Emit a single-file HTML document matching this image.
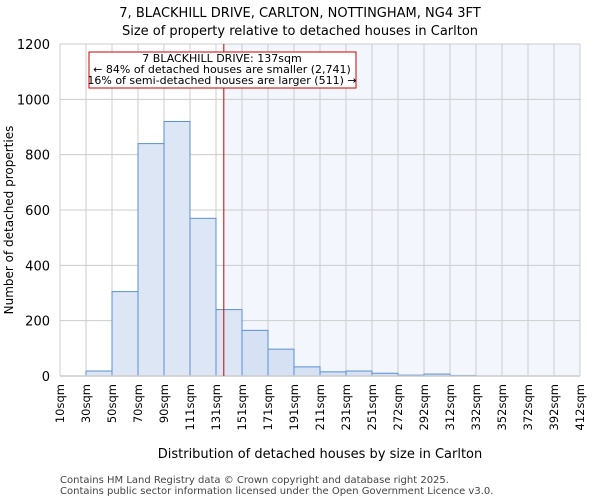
<!DOCTYPE html>
<html><head><meta charset="utf-8"><style>
body{margin:0;background:#fff;font-family:"DejaVu Sans","Liberation Sans",sans-serif}
</style></head><body>
<svg id="chart" width="600" height="500" xmlns="http://www.w3.org/2000/svg" font-family="DejaVu Sans, Liberation Sans, sans-serif">
<text x="300" y="17" text-anchor="middle" font-size="13">7, BLACKHILL DRIVE, CARLTON, NOTTINGHAM, NG4 3FT</text>
<text x="300" y="35" text-anchor="middle" font-size="13">Size of property relative to detached houses in Carlton</text>
<g id="plot"></g>
<text x="320" y="458" text-anchor="middle" font-size="13">Distribution of detached houses by size in Carlton</text>
<text transform="translate(13,220) rotate(-90)" text-anchor="middle" font-size="12">Number of detached properties</text>
<text x="60" y="483" font-size="10" fill="#444">Contains HM Land Registry data © Crown copyright and database right 2025.</text>
<text x="60" y="494" font-size="10" fill="#444">Contains public sector information licensed under the Open Government Licence v3.0.</text>
</svg>
<script>
const binLabels = ["10sqm","30sqm","50sqm","70sqm","90sqm","111sqm","131sqm","151sqm","171sqm","191sqm","211sqm","231sqm","251sqm","272sqm","292sqm","312sqm","332sqm","352sqm","372sqm","392sqm","412sqm"];
const counts = [0,18,305,840,920,570,240,165,97,33,15,18,10,3,7,2,0,0,0,0];
const yTicks = [0,200,400,600,800,1000,1200];
const propertyIndex = 6.3;
const annotationLines = ["7 BLACKHILL DRIVE: 137sqm","← 84% of detached houses are smaller (2,741)","16% of semi-detached houses are larger (511) →"];

const NS="http://www.w3.org/2000/svg";
const L=60,R=580,T=44,B=376,yMax=1200;
const nb=binLabels.length-1;
const xs=i=>L+(R-L)*i/nb;
const ys=v=>B-(B-T)*v/yMax;
const g=document.getElementById('plot');
function mk(tag,attrs){const e=document.createElementNS(NS,tag);for(const k in attrs)e.setAttribute(k,attrs[k]);g.appendChild(e);return e;}
const px=xs(propertyIndex);
let e=mk('rect',{x:px,y:T,width:R-px,height:B-T,fill:'#f3f6fc'});


for(let i=0;i<=nb;i++){e=mk('line',{x1:xs(i),x2:xs(i),y1:T,y2:B,stroke:'#cccccc','stroke-width':1});

}
yTicks.forEach(v=>{e=mk('line',{x1:L,x2:R,y1:ys(v),y2:ys(v),stroke:'#cccccc','stroke-width':1});


e=mk('text',{x:L-10,y:ys(v)+5,'text-anchor':'end','font-size':13});e.textContent=v;

});
counts.forEach((c,i)=>{if(c<=0)return;e=mk('rect',{x:xs(i),y:ys(c),width:xs(i+1)-xs(i),height:B-ys(c),fill:i<7?'#dce6f4':'#d6e2f3',stroke:'#5b8fd6','stroke-width':1});

});
e=mk('line',{x1:L,x2:R,y1:B,y2:B,stroke:'#cccccc','stroke-width':1.5});


binLabels.forEach((t,i)=>{e=mk('text',{transform:`translate(${xs(i)+4},384) rotate(-90)`,'text-anchor':'end','font-size':11.5});e.textContent=t;

});
e=mk('line',{x1:px,x2:px,y1:T,y2:B,stroke:'#cc0000','stroke-width':1});


e=mk('rect',{x:89,y:52,width:267,height:36,fill:'#fff',stroke:'#cc0000','stroke-width':1});


annotationLines.forEach((t,i)=>{e=mk('text',{x:222,y:62+i*11,'text-anchor':'middle','font-size':11});e.textContent=t;

});
</script>
</body></html>
